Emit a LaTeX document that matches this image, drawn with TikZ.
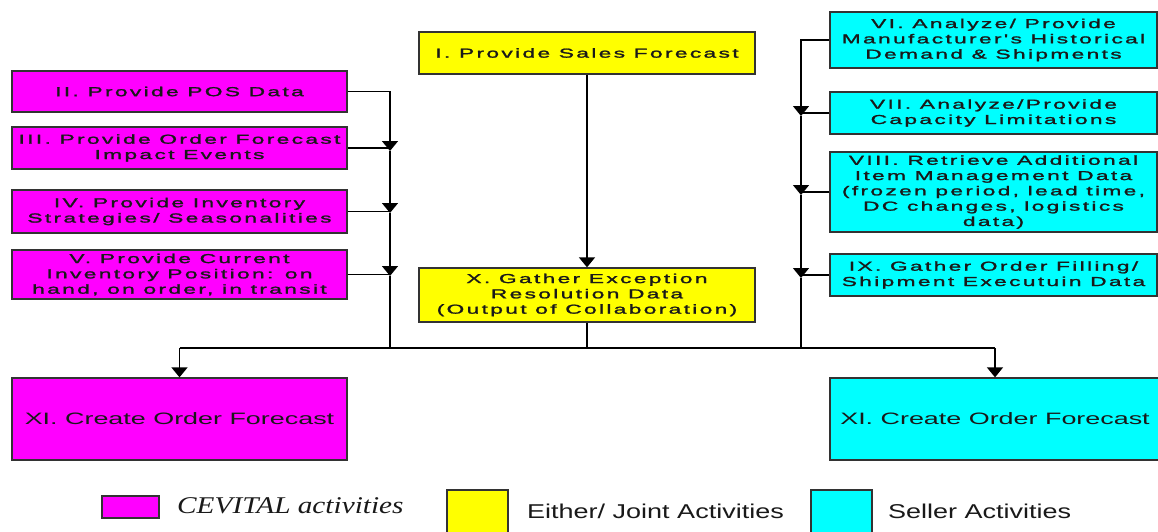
\documentclass[tikz,border=0pt]{standalone}
\usepackage{fontspec}
\usetikzlibrary{arrows.meta}
\newfontfamily\boxfont[FakeStretch=1.75,LetterSpace=18,FakeBold=1.6]{Liberation Sans}
\newfontfamily\xifont[FakeStretch=1.63]{Liberation Sans}
\newfontfamily\legsans[FakeStretch=1.35]{Liberation Sans}
\newfontfamily\legserif[FakeStretch=1.22]{Liberation Serif}
\definecolor{magbox}{RGB}{255,0,255}
\definecolor{yelbox}{RGB}{255,255,0}
\definecolor{cyabox}{RGB}{0,255,255}
\tikzset{
  box/.style={draw=black!80, line width=1.3pt, inner sep=0pt, align=center,
    text=black!90, font=\boxfont\fontsize{13}{15.3}\selectfont},
  magb/.style={box, fill=magbox},
  yelb/.style={box, fill=yelbox},
  cyab/.style={box, fill=cyabox},
  conn/.style={draw=black, line width=1.4pt},
  arrowc/.style={conn, -{Triangle[width=16pt,length=10pt]}},
  legsq/.style={draw=black!80, line width=1.3pt},
  legtext/.style={anchor=base west, inner sep=0pt, text=black!90}
}
\begin{document}
\begin{tikzpicture}[x=1pt,y=-1pt]
\useasboundingbox[fill=white] (0,0) rectangle (1158,531);
% left (magenta) boxes
\node[magb, minimum width=335pt, minimum height=41pt] (II) at (179.5,91.5) {II. Provide POS Data};
\node[magb, minimum width=335pt, minimum height=42pt] (III) at (179.5,148) {III. Provide Order Forecast\\Impact Events};
\node[magb, minimum width=335pt, minimum height=43pt] (IV) at (179.5,211.5) {IV. Provide Inventory\\Strategies/ Seasonalities};
\node[magb, minimum width=335pt, minimum height=49pt] (V) at (179.5,274.5) {V. Provide Current\\Inventory Position: on\\hand, on order, in transit};
% centre (yellow) boxes
\node[yelb, minimum width=336pt, minimum height=42pt] (I) at (587,53) {I. Provide Sales Forecast};
\node[yelb, minimum width=336pt, minimum height=54pt] (X) at (587,295) {X. Gather Exception\\Resolution Data\\(Output of Collaboration)};
% right (cyan) boxes
\node[cyab, minimum width=327pt, minimum height=56pt] (VI) at (993.5,40) {VI. Analyze/ Provide\\Manufacturer's Historical\\Demand \& Shipments};
\node[cyab, minimum width=327pt, minimum height=42pt] (VII) at (993.5,113) {VII. Analyze/Provide\\Capacity Limitations};
\node[cyab, minimum width=327pt, minimum height=80pt] (VIII) at (993.5,192) {VIII. Retrieve Additional\\Item Management Data\\(frozen period, lead time,\\DC changes, logistics\\data)};
\node[cyab, minimum width=327pt, minimum height=42pt] (IX) at (993.5,275) {IX. Gather Order Filling/\\Shipment Executuin Data};
% bottom boxes
\node[magb, minimum width=335pt, minimum height=82pt, font=\xifont\fontsize{16.5}{19}\selectfont] (XIL) at (179.5,419) {XI. Create Order Forecast};
\node[cyab, minimum width=330pt, minimum height=82pt, font=\xifont\fontsize{16.5}{19}\selectfont] (XIR) at (995,419) {XI. Create Order Forecast};
% junction coordinates
\coordinate (L3) at (390,151);
\coordinate (L4) at (390,213);
\coordinate (L5) at (390,276);
\coordinate (Lb) at (390,348);
\coordinate (R7) at (801,116);
\coordinate (R8) at (801,195);
\coordinate (R9) at (801,278);
\coordinate (Rb) at (801,348);
\coordinate (Cb) at (X.south |- Lb);
\coordinate (BL) at (XIL.north |- Lb);
\coordinate (BR) at (XIR.north |- Lb);
% left connectors
\draw[arrowc] (II.east) -| (L3);
\draw[conn] (III.east) -- (III.east -| L3);
\draw[conn] (IV.east) -- (IV.east -| L4);
\draw[conn] (V.east) -- (V.east -| L5);
\draw[arrowc] (L3) -- (L4);
\draw[arrowc] (L4) -- (L5);
\draw[conn] (L5) -- (Lb);
% right connectors
\draw[arrowc] (VI.west) -| (R7);
\draw[conn] (VII.west) -- (VII.west -| R7);
\draw[conn] (VIII.west) -- (VIII.west -| R8);
\draw[conn] (IX.west) -- (IX.west -| R9);
\draw[arrowc] (R7) -- (R8);
\draw[arrowc] (R8) -- (R9);
\draw[conn] (R9) -- (Rb);
% centre connectors
\draw[arrowc] (I.south) -- (X.north);
\draw[conn] (X.south) -- (Cb);
% bottom distribution
\draw[conn] (BL) -- (BR);
\draw[arrowc] (BL) -- (XIL.north);
\draw[arrowc] (BR) -- (XIR.north);
% legend
\node[legsq, fill=magbox, minimum width=57pt, minimum height=22pt, inner sep=0pt] (lgM) at (130.5,507) {};
\node[legsq, fill=yelbox, minimum width=61pt, minimum height=50pt, inner sep=0pt] (lgY) at (477.5,515) {};
\node[legsq, fill=cyabox, minimum width=61pt, minimum height=50pt, inner sep=0pt] (lgC) at (841.5,515) {};
\node[legtext, font=\legserif\itshape\fontsize{24}{28}\selectfont] (lgMt) at (177,513) {CEVITAL activities};
\node[legtext, font=\legsans\fontsize{20}{24}\selectfont] (lgYt) at (527,518) {Either/ Joint Activities};
\node[legtext, font=\legsans\fontsize{20}{24}\selectfont] (lgCt) at (888,518) {Seller Activities};
\end{tikzpicture}
\end{document}
